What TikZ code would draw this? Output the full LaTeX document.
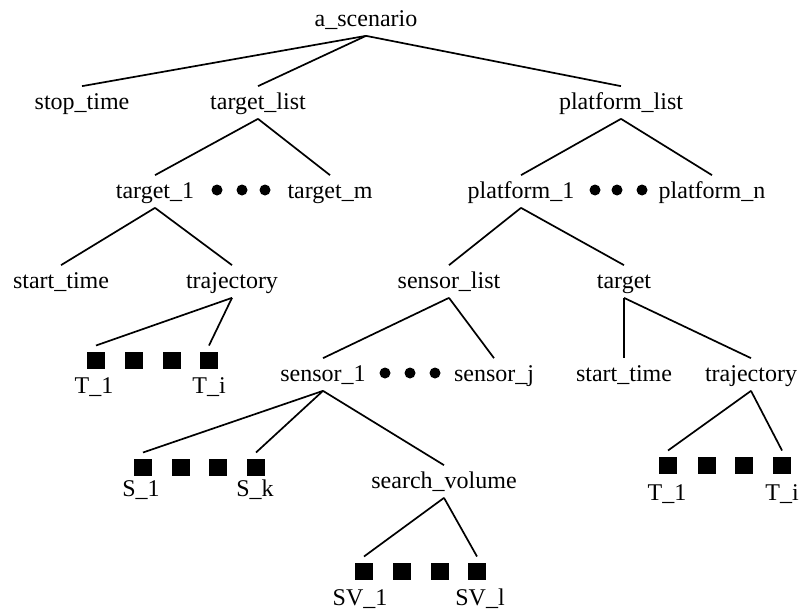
\documentclass[tikz,border=0pt]{standalone}
\usepackage{fontspec}
\setmainfont{Liberation Serif}

\begin{document}
\begin{tikzpicture}[x=1pt,y=-1pt,line width=1.7pt]
      \tikzset{
        every node/.style={font=\fontsize{24}{28}\selectfont},
        every edge/.style={draw, line width=1.7pt},
        item/.style={anchor=base, inner xsep=2pt, inner ysep=5pt,
          text height=17pt, text depth=4pt},
        leaf/.style={fill=black, minimum width=18pt, minimum height=17pt,
          inner sep=0pt, outer sep=6pt},
        more/.style={circle, fill=black, minimum size=11pt, inner sep=0pt},
      }
      \useasboundingbox (0,0) rectangle (802,613);

      \node[item] (scen) at (366,26) {a\_scenario};
      \node[item] (stop) at (82,109) {stop\_time};
      \node[item] (tlist) at (258,109) {target\_list};
      \node[item] (plist) at (621,109) {platform\_list};
      \node[item] (tgt1) at (155,198) {target\_1};
      \node[item] (tgtm) at (330,198) {target\_m};
      \node[item] (plat1) at (521,198) {platform\_1};
      \node[item] (platn) at (712,198) {platform\_n};
      \node[item] (tstart) at (61,288) {start\_time};
      \node[item] (ttraj) at (232,288) {trajectory};
      \node[item] (slist) at (449,288) {sensor\_list};
      \node[item] (ptgt) at (624,288) {target};
      \node[item] (sens1) at (323,381) {sensor\_1};
      \node[item] (sensj) at (494,381) {sensor\_j};
      \node[item] (pstart) at (624,381) {start\_time};
      \node[item] (ptraj) at (751,381) {trajectory};
      \node[item] (svol) at (444,488) {search\_volume};

      % dots between the first and the last
      \foreach \x [count=\i] in {217,242,265}
        \node[more] (tdot\i) at (\x,190) {};
      \foreach \x [count=\i] in {595,617,642}
        \node[more] (pdot\i) at (\x,190) {};
      \foreach \x [count=\i] in {385,410,435}
        \node[more] (sdot\i) at (\x,373) {};

      % leaves
      \foreach \x [count=\i] in {96,134,172,209}
        \node[leaf] (ta\i) at (\x,360) {};
      \foreach \x [count=\i] in {143,181,218,256}
        \node[leaf] (s\i) at (\x,467) {};
      \foreach \x [count=\i] in {364,402,440,477}
        \node[leaf] (sv\i) at (\x,571) {};
      \foreach \x [count=\i] in {668,707,744,782}
        \node[leaf] (tb\i) at (\x,465) {};

      \node[item] (ta1lbl) at (94,393) {T\_1};
      \node[item] (ta4lbl) at (209,393) {T\_i};
      \node[item] (s1lbl) at (141,496) {S\_1};
      \node[item] (s4lbl) at (255,496) {S\_k};
      \node[item] (sv1lbl) at (360,605) {SV\_1};
      \node[item] (sv4lbl) at (480,605) {SV\_l};
      \node[item] (tb1lbl) at (667,500) {T\_1};
      \node[item] (tb4lbl) at (782,500) {T\_i};

      \draw
        (scen.south) edge (stop.north) edge (tlist.north) edge (plist.north)
        (tlist.south) edge (tgt1.north) edge (tgtm.north)
        (plist.south) edge (plat1.north) edge (platn.north)
        (tgt1.south) edge (tstart.north) edge (ttraj.north)
        (ttraj.south) edge (ta1.north) edge (ta4.north)
        (plat1.south) edge (slist.north) edge (ptgt.north)
        (slist.south) edge (sens1.north) edge (sensj.north)
        (ptgt.south) edge (pstart.north) edge (ptraj.north)
        (ptraj.south) edge (tb1.north) edge (tb4.north)
        (sens1.south) edge (s1.north) edge (s4.north) edge (svol.north)
        (svol.south) edge (sv1.north) edge (sv4.north);
    \end{tikzpicture}
\end{document}
